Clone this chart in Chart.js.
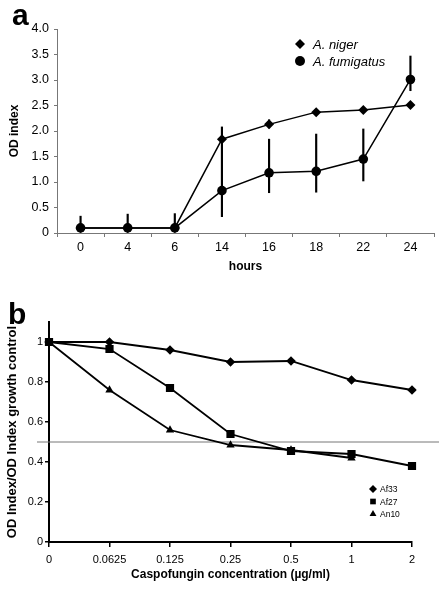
<!DOCTYPE html>
<html>
<head>
<meta charset="utf-8">
<title>OD index</title>
<script src="https://cdn.jsdelivr.net/npm/chart.js@4.4.1/dist/chart.umd.min.js"></script>
<style>
  body { margin: 0; background: #fff; width: 443px; height: 589px; position: relative; overflow: hidden; }
  canvas { position: absolute; left: 0; }
  #chartA { top: 0; }
  #chartB { top: 275px; }
</style>
</head>
<body>
<canvas id="chartA" width="443" height="275"></canvas>
<canvas id="chartB" width="443" height="314"></canvas>
<script>
// panel a: OD index over time
const hours = ['0', '4', '6', '14', '16', '18', '22', '24'];
const nigerOD = [0.10, 0.10, 0.10, 1.84, 2.13, 2.37, 2.41, 2.51];
const fumigatusOD = [0.10, 0.10, 0.10, 0.83, 1.18, 1.21, 1.45, 3.01];
const fumigatusLow = [0.02, 0.02, 0.02, 0.32, 0.79, 0.80, 1.02, 2.79];
const fumigatusHigh = [0.33, 0.37, 0.38, 2.08, 1.84, 1.94, 2.04, 3.47];
const nigerLow = [null, null, null, null, 2.06, null, null, null];
const nigerHigh = [null, null, null, null, 2.22, null, null, null];

// panel b: relative growth vs caspofungin
const concentrations = ['0', '0.0625', '0.125', '0.25', '0.5', '1', '2'];
const af33 = [1.0, 1.0, 0.96, 0.90, 0.905, 0.81, 0.76];
const af27 = [1.0, 0.965, 0.77, 0.54, 0.455, 0.44, 0.38];
const an10 = [1.0, 0.76, 0.56, 0.485, 0.46, 0.42, null];
const cutoff = 0.5;

const FONT = '"Liberation Sans", Arial, sans-serif';
Chart.defaults.font.family = FONT;
Chart.defaults.color = '#000';

const pairs = (lo, hi) => lo.map((v, i) => v === null ? null : [v, hi[i]]);

const panelLetter = (letter, x, y, size) => ({
  id: 'panelLetter',
  afterDraw(chart) {
    const ctx = chart.ctx;
    ctx.save();
    ctx.font = 'bold ' + size + 'px ' + FONT;
    ctx.fillStyle = '#000';
    ctx.fillText(letter, x, y);
    ctx.restore();
  }
});

const insetLegend = {
  id: 'insetLegend',
  afterDraw(chart, args, opts) {
    const { ctx, chartArea } = chart;
    ctx.save();
    ctx.font = opts.font;
    ctx.fillStyle = '#000';
    ctx.textBaseline = 'middle';
    opts.items.forEach((idx, i) => {
      const ds = chart.data.datasets[idx];
      const x = chartArea.left + opts.x;
      const y = chartArea.top + opts.y + i * opts.gap;
      Chart.helpers.drawPoint(ctx, { pointStyle: ds.pointStyle, radius: opts.radius, rotation: 0, borderWidth: 0 }, x, y);
      ctx.fillText(ds.label, x + opts.textGap, y + 1);
    });
    ctx.restore();
  }
};

const cutoffLine = {
  id: 'cutoffLine',
  beforeDatasetsDraw(chart, args, opts) {
    const { ctx, chartArea, scales } = chart;
    const y = scales.y.getPixelForValue(opts.value);
    ctx.save();
    ctx.strokeStyle = '#777';
    ctx.lineWidth = 1;
    ctx.beginPath();
    ctx.moveTo(chartArea.left - 12, y);
    ctx.lineTo(chartArea.right + 27, y);
    ctx.stroke();
    ctx.restore();
  }
};

const line = (label, data, style, r, w) => ({
  label: label,
  data: data,
  pointStyle: style,
  pointRadius: r,
  borderColor: '#000',
  backgroundColor: '#000',
  pointBackgroundColor: '#000',
  pointBorderWidth: 0,
  borderWidth: w,
  tension: 0,
  order: 1
});

const errBar = (label, data) => ({
  type: 'bar',
  label: label,
  data: data,
  backgroundColor: '#000',
  barThickness: 1.5,
  grouped: false,
  order: 3
});

new Chart(document.getElementById('chartA'), {
  type: 'line',
  data: {
    labels: hours,
    datasets: [
      line('A. niger', nigerOD, 'rectRot', 5, 1.5),
      line('A. fumigatus', fumigatusOD, 'circle', 4.8, 1.5),
      errBar('A. fumigatus SD', pairs(fumigatusLow, fumigatusHigh)),
      errBar('A. niger SD', pairs(nigerLow, nigerHigh))
    ]
  },
  options: {
    responsive: false,
    animation: false,
    devicePixelRatio: 1,
    layout: { padding: { top: 29, right: 9, left: 0, bottom: 0 } },
    plugins: {
      legend: { display: false },
      tooltip: { enabled: false },
      insetLegend: { items: [0, 1], x: 243, y: 15, gap: 17, radius: 5, textGap: 13, font: 'italic 13px ' + FONT }
    },
    scales: {
      x: {
        offset: true,
        grid: { offset: true, drawOnChartArea: false, tickLength: 4, color: '#777' },
        border: { color: '#777', width: 1 },
        ticks: { font: { size: 12.5 }, padding: 3, maxRotation: 0 },
        title: { display: true, text: 'hours', font: { size: 12, weight: 'bold' }, padding: { top: 0, bottom: 1 } },
        afterFit: s => { s.height = 42; }
      },
      y: {
        min: 0,
        max: 4,
        ticks: { stepSize: 0.5, padding: 5, font: { size: 12.5 }, callback: v => v === 0 ? '0' : v.toFixed(1) },
        grid: { drawOnChartArea: false, tickLength: 3, color: '#777' },
        border: { color: '#777', width: 1 },
        title: { display: true, text: 'OD index', font: { size: 12, weight: 'bold' }, padding: { top: 7, bottom: 0 } },
        afterFit: s => { s.width = 57; }
      }
    }
  },
  plugins: [insetLegend, panelLetter('a', 12, 25, 30)]
});

new Chart(document.getElementById('chartB'), {
  type: 'line',
  data: {
    labels: concentrations,
    datasets: [
      line('Af33', af33, 'rectRot', 4.8, 1.8),
      line('Af27', af27, 'rect', 5.8, 1.8),
      line('An10', an10, 'triangle', 4.8, 1.8)
    ]
  },
  options: {
    responsive: false,
    animation: false,
    devicePixelRatio: 1,
    layout: { padding: { top: 47, right: 31, left: 0, bottom: 0 } },
    plugins: {
      legend: { display: false },
      tooltip: { enabled: false },
      cutoffLine: { value: cutoff },
      insetLegend: { items: [0, 1, 2], x: 324, y: 167, gap: 12.5, radius: 4, textGap: 7, font: '8.5px ' + FONT }
    },
    scales: {
      x: {
        offset: false,
        grid: { drawOnChartArea: false, tickLength: 5, color: '#000', lineWidth: 1.5 },
        border: { color: '#000', width: 2 },
        ticks: { font: { size: 11 }, padding: 6, maxRotation: 0 },
        title: { display: true, text: 'Caspofungin concentration (\u00b5g/ml)', font: { size: 12, weight: 'bold' }, padding: { top: 0, bottom: 7 } },
        afterFit: s => { s.height = 47; }
      },
      y: {
        min: 0,
        max: 1.1,
        ticks: { stepSize: 0.2, padding: 2, font: { size: 11 }, callback: v => String(Math.round(v * 10) / 10) },
        afterBuildTicks: s => { s.ticks = s.ticks.filter(t => t.value <= 1.0001); },
        grid: { drawOnChartArea: false, tickLength: 4, color: '#000', lineWidth: 1.5 },
        border: { color: '#000', width: 2 },
        title: { display: true, text: 'OD Index/OD Index growth control', font: { size: 13, weight: 'bold' }, padding: { top: 5, bottom: 0 } },
        afterFit: s => { s.width = 49; }
      }
    }
  },
  plugins: [cutoffLine, insetLegend, panelLetter('b', 8, 49, 30)]
});
</script>
</body>
</html>
